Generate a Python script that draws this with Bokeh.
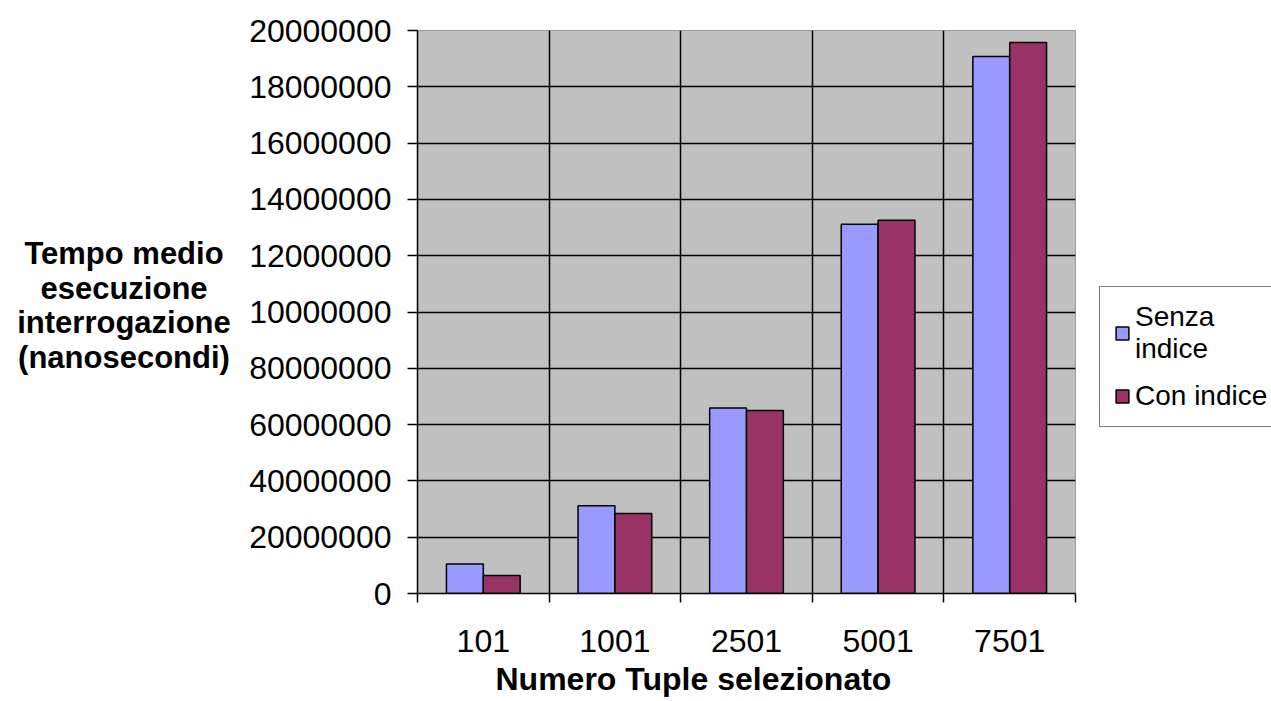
from bokeh.plotting import figure
from bokeh.models import (Range1d, FixedTicker, Legend, LegendItem, Title,
                          ColumnDataSource)
from bokeh.layouts import row
from bokeh.core.properties import value
from bokeh.embed import file_html
from bokeh.resources import INLINE

# ---- data -------------------------------------------------------------
categories = ["101", "1001", "2501", "5001", "7501"]
senza_indice = [10500000, 31200000, 65900000, 131200000, 190800000]
con_indice = [6400000, 28400000, 65000000, 132600000, 195700000]
y_ticks = [0, 20000000, 40000000, 60000000, 80000000, 100000000,
           120000000, 140000000, 160000000, 180000000, 200000000]
y_tick_labels = ["0", "20000000", "40000000", "60000000", "80000000",
                 "10000000", "12000000", "14000000", "16000000",
                 "18000000", "20000000"]
series_names = ["Senza\nindice", "Con indice"]
y_title_lines = ["Tempo medio", "esecuzione", "interrogazione", "(nanosecondi)"]
x_title = "Numero Tuple selezionato"

FONT = "Liberation Sans"
BLUE = "#9999FF"
MAROON = "#993366"
H = 701
TOP = 30          # frame top (shared by all panels of the row)
BOTTOM = 594      # frame bottom (shared)
LEFT_W = 230
MAIN_W = 847
LEG_W = 1271 - LEFT_W - MAIN_W

n = len(categories)
idx = list(range(n))
src = ColumnDataSource(dict(
    xs=[i + 0.36 for i in idx],
    xc=[i + 0.64 for i in idx],
    senza=senza_indice,
    con=con_indice,
))


def bare_figure(w):
    f = figure(width=w, height=H, output_backend="svg", toolbar_location=None,
               x_axis_type=None, y_axis_type=None, min_border=0,
               min_border_top=TOP, min_border_bottom=H - BOTTOM)
    f.title.visible = False
    f.grid.visible = False
    f.outline_line_color = None
    f.background_fill_color = "white"
    f.border_fill_color = "white"
    return f


# ---- left panel holding the horizontal y-axis title ---------------------
t = bare_figure(LEFT_W)
t.x_range = Range1d(0, LEFT_W)
t.y_range = Range1d(BOTTOM, TOP)
tsrc = ColumnDataSource(dict(
    x=[123.5] * len(y_title_lines),
    y=[253 + 35 * k for k in range(len(y_title_lines))],
    text=y_title_lines,
))
t.text(x="x", y="y", text="text", source=tsrc, text_align="center",
       text_baseline="alphabetic", text_font=value(FONT),
       text_font_size="31px", text_font_style="bold", text_color="black")

# ---- main chart ---------------------------------------------------------
p = figure(width=MAIN_W, height=H, output_backend="svg",
           toolbar_location=None,
           x_range=Range1d(0, n), y_range=Range1d(0, 200000000),
           min_border_left=417 - LEFT_W, min_border_right=2,
           min_border_top=TOP, min_border_bottom=H - BOTTOM)
p.title.visible = False
p.background_fill_color = "#C0C0C0"
p.border_fill_color = "white"
p.outline_line_color = "#9a9a9a"
p.outline_line_width = 1

r1 = p.vbar(x="xs", top="senza", width=0.28, source=src, fill_color=BLUE,
            line_color="black", line_width=1.5)
r2 = p.vbar(x="xc", top="con", width=0.28, source=src, fill_color=MAROON,
            line_color="black", line_width=1.5)

# grids
p.xgrid.ticker = FixedTicker(ticks=[float(i) for i in range(n + 1)])
p.xgrid.grid_line_color = "black"
p.xgrid.grid_line_width = 1.5
p.ygrid.ticker = FixedTicker(ticks=y_ticks)
p.ygrid.grid_line_color = "black"
p.ygrid.grid_line_width = 1.5
p.grid.level = "underlay"

# y axis
ya = p.yaxis[0]
ya.ticker = FixedTicker(ticks=y_ticks)
ya.major_label_overrides = {tk: lab for tk, lab in zip(y_ticks, y_tick_labels)}
ya.major_tick_out = 10
ya.major_tick_in = 0
ya.minor_tick_line_color = None
ya.axis_line_color = "black"
ya.axis_line_width = 1.5
ya.major_tick_line_color = "black"
ya.major_tick_line_width = 1.5
ya.major_label_standoff = 16
ya.major_label_text_font = FONT
ya.major_label_text_font_size = "32px"
ya.major_label_text_color = "black"

# x axis: labels at category centres, ticks at boundaries
xa = p.xaxis[0]
xa.ticker = FixedTicker(ticks=[i + 0.5 for i in idx],
                        minor_ticks=[float(i) for i in range(n + 1)])
xa.major_label_overrides = {i + 0.5: c for i, c in zip(idx, categories)}
xa.major_tick_line_color = None
xa.major_tick_out = 0
xa.major_tick_in = 0
xa.minor_tick_out = 9
xa.minor_tick_in = 0
xa.minor_tick_line_color = "black"
xa.minor_tick_line_width = 1.5
xa.axis_line_color = "black"
xa.axis_line_width = 1.5
xa.major_label_standoff = 27
xa.major_label_text_font = FONT
xa.major_label_text_font_size = "32px"
xa.major_label_text_color = "black"

# x-axis title, below the tick labels
p.add_layout(Title(text=x_title, align="left", offset=78,
                   vertical_align="bottom",
                   text_font=FONT, text_font_size="32px",
                   text_font_style="bold", text_color="black",
                   standoff=9), "below")

# ---- legend panel (keys reuse the series' data and styles) --------------
lf = bare_figure(LEG_W)
lf.x_range = Range1d(0, n)
lf.y_range = Range1d(0, 200000000)
k1 = lf.vbar(x="xs", top="senza", width=0.28, source=src, fill_color=BLUE,
             line_color="black", line_width=1.5, visible=False)
k2 = lf.vbar(x="xc", top="con", width=0.28, source=src, fill_color=MAROON,
             line_color="black", line_width=1.5, visible=False)
legend = Legend(items=[LegendItem(label=series_names[0], renderers=[k1]),
                       LegendItem(label=series_names[1], renderers=[k2])],
                location=(22, BOTTOM - 428), orientation="vertical")
legend.label_text_font = FONT
legend.label_text_font_size = "28px"
legend.label_text_color = "black"
legend.label_text_line_height = 1.22
legend.glyph_width = 16
legend.glyph_height = 16
legend.label_standoff = 5
legend.padding = 14
legend.spacing = 15
legend.margin = 0
legend.inactive_fill_alpha = 0.0
legend.border_line_color = "black"
legend.border_line_width = 1.5
legend.background_fill_color = "white"
legend.background_fill_alpha = 1.0
lf.add_layout(legend, "center")

layout = row(t, p, lf)
open("out.html", "w").write(file_html(layout, INLINE))
